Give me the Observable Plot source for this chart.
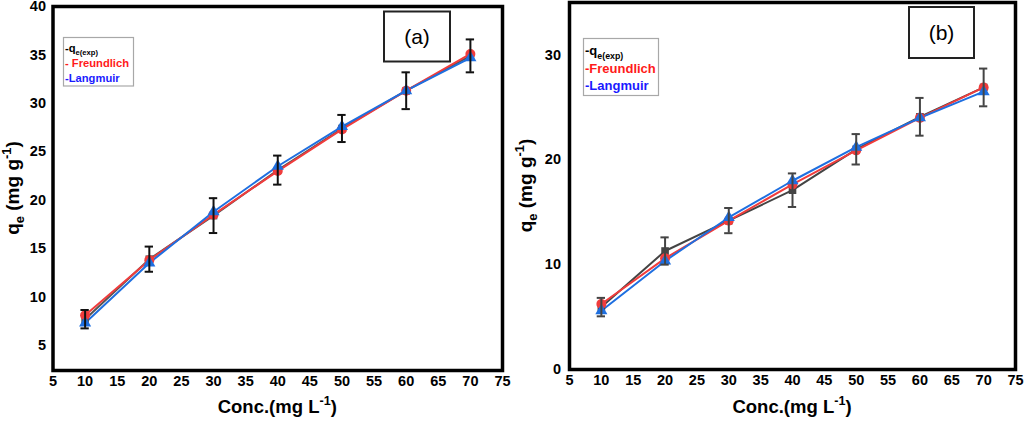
<!DOCTYPE html>
<html><head><meta charset="utf-8">
<script src="https://cdn.jsdelivr.net/npm/d3@7"></script>
<script src="https://cdn.jsdelivr.net/npm/@observablehq/plot@0.6"></script>
<style>
body{margin:0;background:#fff}
#wrap{display:flex;width:1024px;height:427px;overflow:hidden}
#wrap svg{display:block;flex:none}
</style>
</head><body><div id="wrap"></div>
<script>
// concentrations (mg/L)
const conc = [10, 20, 30, 40, 50, 60, 70];
const xTicks = [5, 10, 15, 20, 25, 30, 35, 40, 45, 50, 55, 60, 65, 70, 75];
// panel (a)
const expA = [7.7, 13.9, 18.4, 23.1, 27.4, 31.3, 34.9];
const errA = [0.95, 1.3, 1.8, 1.5, 1.4, 1.9, 1.7];
const freA = [8.1, 13.8, 18.5, 23.0, 27.3, 31.3, 35.1];
const lanA = [7.3, 13.5, 18.8, 23.5, 27.6, 31.3, 34.7];
const yTicksA = [5, 10, 15, 20, 25, 30, 35, 40];
// panel (b)
const expB = [5.95, 11.3, 14.2, 17.1, 21.0, 24.1, 26.9];
const errB = [0.88, 1.3, 1.2, 1.6, 1.45, 1.8, 1.8];
const freB = [6.25, 10.6, 14.2, 17.65, 20.9, 24.0, 26.9];
const lanB = [5.6, 10.35, 14.5, 18.0, 21.2, 24.0, 26.5];
const yTicksB = [0, 10, 20, 30];

const RED = "#f03c3c", BLUE = "#1e6fe0";
const FONT = "'Liberation Sans', Arial, sans-serif";

function rich(g, x, y, parts, size, attrs) {
  const t = g.append("text").attr("x", x).attr("y", y)
    .attr("font-family", FONT).attr("font-size", size).attr("font-weight", "bold")
    .attr("text-anchor", "start");
  for (const [k, v] of Object.entries(attrs || {})) t.attr(k, v);
  let shift = 0;
  for (const p of parts) {
    const s = t.append("tspan").text(p.t);
    let target = 0;
    if (p.sub) { s.attr("font-size", size * 0.68); target = size * 0.28; }
    if (p.sup) { s.attr("font-size", size * 0.68); target = -size * 0.42; }
    s.attr("dy", target - shift);
    shift = target;
  }
  return t;
}

function panel(cfg) {
  const rows = conc.map((x, i) => ({x, exp: cfg.exp[i], err: cfg.err[i], fre: cfg.fre[i], lan: cfg.lan[i]}));
  const svg = Plot.plot({
    width: 512, height: 427,
    marginLeft: cfg.ml, marginRight: cfg.mr, marginTop: cfg.mt, marginBottom: cfg.mb,
    style: {fontFamily: FONT, fontSize: "14.5px", fontWeight: "bold", color: "#000", background: "#fff", overflow: "visible"},
    x: {domain: [5, 75]},
    y: {domain: cfg.yDomain},
    marks: [
      Plot.axisX({ticks: xTicks, tickSize: 0, tickPadding: 5, label: null, fill: "#000"}),
      Plot.axisY({ticks: cfg.yTicks, tickSize: 0, tickPadding: cfg.typad, label: null, fill: "#000"}),
      Plot.line(rows, {x: "x", y: "exp", stroke: cfg.expColor, strokeWidth: 2}),
      Plot.line(rows, {x: "x", y: "fre", stroke: RED, strokeWidth: 2}),
      Plot.line(rows, {x: "x", y: "lan", stroke: BLUE, strokeWidth: 2}),
      Plot.dot(rows, {x: "x", y: "exp", symbol: "square", r: 4.3, fill: cfg.expColor}),
      Plot.dot(rows, {x: "x", y: "fre", symbol: "circle", r: 5, fill: RED}),
      Plot.dot(rows, {x: "x", y: "lan", symbol: "triangle", r: 4.5, fill: BLUE}),
      Plot.ruleX(rows, {x: "x", y1: d => d.exp - d.err, y2: d => d.exp + d.err, stroke: cfg.errColor, strokeWidth: 2}),
      Plot.ruleY(rows, {y: d => d.exp + d.err, x1: d => d.x - 0.65, x2: d => d.x + 0.65, stroke: cfg.errColor, strokeWidth: 2}),
      Plot.ruleY(rows, {y: d => d.exp - d.err, x1: d => d.x - 0.65, x2: d => d.x + 0.65, stroke: cfg.errColor, strokeWidth: 2}),
      Plot.frame({stroke: "#000", strokeWidth: 3.5})
    ]
  });
  document.getElementById("wrap").appendChild(svg);
  const g = d3.select(svg).append("g");
  const cx = (cfg.ml + 512 - cfg.mr) / 2;
  // x axis title
  rich(g, cx, 413, [{t: "Conc.(mg L"}, {t: "-1", sup: true}, {t: ")"}], 18.5, {"text-anchor": "middle"});
  // y axis title
  const cy = (cfg.mt + 427 - cfg.mb) / 2;
  rich(g, 0, 0, [{t: "q"}, {t: "e", sub: true}, {t: " (mg g"}, {t: "-1", sup: true}, {t: ")"}], 19,
    {"text-anchor": "middle", transform: `translate(${cfg.yLabX},${cy}) rotate(-90)`});
  // legend
  const L = cfg.legend;
  g.append("rect").attr("x", L.x).attr("y", L.y).attr("width", L.w).attr("height", L.h)
    .attr("fill", "#fff").attr("stroke", "#a8a8a8").attr("stroke-width", 1.2);
  rich(g, L.tx, L.b[0], [{t: "-q"}, {t: "e(exp)", sub: true}], L.fs, {fill: "#000"});
  rich(g, L.tx, L.b[1], [{t: L.fre}], L.fs, {fill: "#ff1a1a"});
  rich(g, L.tx, L.b[2], [{t: "-Langmuir"}], L.fs, {fill: "#1a1aff"});
  // panel label box
  const P = cfg.label;
  g.append("rect").attr("x", P.x).attr("y", P.y).attr("width", P.w).attr("height", P.h)
    .attr("fill", "#fff").attr("stroke", "#222").attr("stroke-width", 2);
  g.append("text").attr("x", P.x + P.w / 2).attr("y", P.y + P.h / 2).attr("dy", "0.35em")
    .attr("text-anchor", "middle").attr("font-family", FONT).attr("font-size", 21)
    .attr("font-weight", "normal").attr("fill", "#000").text(P.text);
}

panel({
  exp: expA, err: errA, fre: freA, lan: lanA, yDomain: [2.4, 40], yTicks: yTicksA,
  ml: 52.5, mr: 10, mt: 6, mb: 57, typad: 7, yLabX: 19,
  expColor: "#555", errColor: "#111",
  legend: {x: 63.5, y: 37.5, w: 70, h: 48.5, tx: 65, b: [51.5, 66.5, 81.5], fs: 11.2, fre: "- Freundlich"},
  label: {x: 384, y: 11.5, w: 66, h: 50, text: "(a)"}
});
panel({
  exp: expB, err: errB, fre: freB, lan: lanB, yDomain: [0, 35], yTicks: yTicksB,
  ml: 57, mr: 9, mt: 2, mb: 58, typad: 8.5, yLabX: 20,
  expColor: "#444", errColor: "#444",
  legend: {x: 71.5, y: 38.5, w: 75, h: 57, tx: 73, b: [55, 73, 90], fs: 13, fre: "-Freundlich"},
  label: {x: 397, y: 7, w: 65, h: 51, text: "(b)"}
});
</script>
</body></html>
